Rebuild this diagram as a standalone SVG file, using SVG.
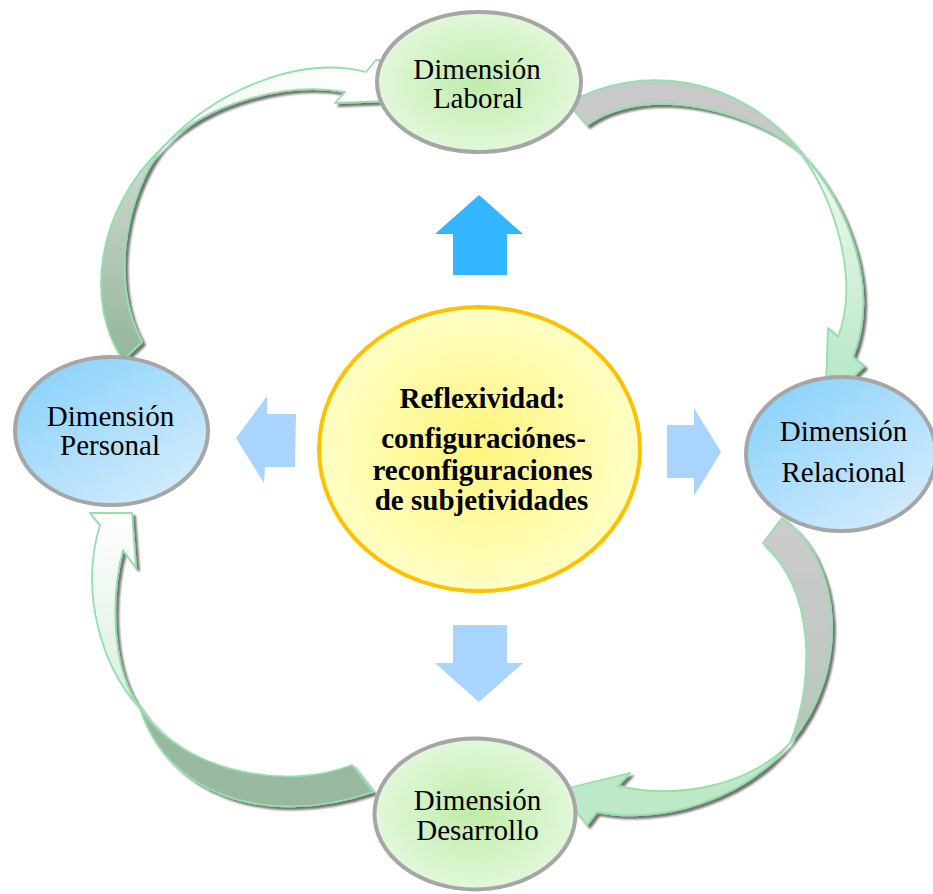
<svg xmlns="http://www.w3.org/2000/svg" width="933" height="894" viewBox="0 0 933 894">
  <defs>
    <style>
      .lbl { font-family: "Liberation Serif", "Times New Roman", serif; font-size: 29px; fill: #000; text-anchor: middle; }
      .bold { font-weight: bold; }
      .dim { stroke: #a6a6a6; stroke-width: 4; }
      .core { stroke: #ffc000; stroke-width: 4; }
      .band { stroke: #93e0ab; stroke-width: 1.8; stroke-linejoin: round; }
      .hint { fill: #a9d4fe; }
      .hint-main { fill: #33b6ff; }
    </style>
    <radialGradient id="gGreen" cx="0.5" cy="0.5" r="0.5">
      <stop offset="0" stop-color="#bfeca9"/>
      <stop offset="1" stop-color="#e2f8da"/>
    </radialGradient>
    <linearGradient id="gBlue" x1="0.15" y1="0.1" x2="0.85" y2="0.95">
      <stop offset="0" stop-color="#8dd3fb"/>
      <stop offset="1" stop-color="#d4ecfc"/>
    </linearGradient>
    <radialGradient id="gYellow" cx="0.5" cy="0.5" r="0.5">
      <stop offset="0" stop-color="#fff47c"/>
      <stop offset="1" stop-color="#ffffc4"/>
    </radialGradient>
    <!-- curved band fills -->
    <linearGradient id="a1back" gradientUnits="userSpaceOnUse" x1="0" y1="350" x2="0" y2="150">
      <stop offset="0" stop-color="#97b79e"/>
      <stop offset="1" stop-color="#cfdad1"/>
    </linearGradient>
    <linearGradient id="a1front" gradientUnits="userSpaceOnUse" x1="160" y1="0" x2="380" y2="0">
      <stop offset="0" stop-color="#f4f8f5"/>
      <stop offset="1" stop-color="#ffffff"/>
    </linearGradient>
    <linearGradient id="a2front" gradientUnits="userSpaceOnUse" x1="0" y1="155" x2="0" y2="370">
      <stop offset="0" stop-color="#f0f9f2"/>
      <stop offset="1" stop-color="#bce9c9"/>
    </linearGradient>
    <linearGradient id="a3back" gradientUnits="userSpaceOnUse" x1="0" y1="520" x2="0" y2="745">
      <stop offset="0" stop-color="#cccccc"/>
      <stop offset="1" stop-color="#b8c6bb"/>
    </linearGradient>
    <linearGradient id="a4front" gradientUnits="userSpaceOnUse" x1="0" y1="515" x2="0" y2="710">
      <stop offset="0" stop-color="#ffffff"/>
      <stop offset="1" stop-color="#d8eede"/>
    </linearGradient>
    <filter id="shadow" x="-20%" y="-20%" width="140%" height="140%">
      <feGaussianBlur in="SourceAlpha" stdDeviation="1"/>
      <feOffset dx="3" dy="3" result="off"/>
      <feComponentTransfer><feFuncA type="linear" slope="0.55"/></feComponentTransfer>
      <feMerge><feMergeNode/><feMergeNode in="SourceGraphic"/></feMerge>
    </filter>
  </defs>

  <rect width="933" height="894" fill="#ffffff"/>

  <g id="connectors">
    <!-- Personal to Laboral -->
    <g filter="url(#shadow)">
      <path class="band" fill="url(#a1back)" d="M123,360 C85,305 95,210 163,147 C128,190 108,280 142,342 Z"/>
      <path class="band" fill="url(#a1front)" d="M163,147 C215,90 300,55 366,72 L376,60 L390,62 L390,101 L335,103 L345,92 C290,82 210,100 163,147 Z"/>
    </g>
    <!-- Laboral to Relacional -->
    <g filter="url(#shadow)">
      <path class="band" fill="#c9c9c9" d="M568,103 C640,62 740,75 800,152 C760,115 650,80 587,125 Z"/>
      <path class="band" fill="url(#a2front)" d="M800,152 C850,205 880,290 853,357 L864,366 L845,385 L826,385 L828,328 L838,337 C860,280 835,200 800,152 Z"/>
    </g>
    <!-- Relacional to Desarrollo -->
    <g filter="url(#shadow)">
      <path class="band" fill="url(#a3back)" d="M782,518 C842,560 852,670 790,743 C815,680 815,590 763,543 Z"/>
      <path class="band" fill="#bde9c9" d="M790,743 C745,800 660,825 597,812 L587,825 L560,790 L630,773 L618,786 C680,800 750,785 790,743 Z"/>
    </g>
    <!-- Desarrollo to Personal -->
    <g filter="url(#shadow)">
      <path class="band" fill="#98b9a0" d="M352,765 C290,790 185,775 140,708 C165,790 260,830 373,792 Z"/>
      <path class="band" fill="url(#a4front)" d="M140,708 C100,665 80,590 100,525 L90,513 L132,513 L136,568 L123,550 C110,600 112,670 140,708 Z"/>
    </g>
    <!-- block arrows radiating from the core -->
    <polygon class="hint-main" points="479,195 523,234 507,234 507,275 453,275 453,234 435,234"/>
    <polygon class="hint" points="453,625 507,625 507,663 523,663 479,702 435,663 453,663"/>
    <polygon class="hint" points="236,438 267,396 267,414 296,414 295,467 265,467 264,483"/>
    <polygon class="hint" points="667,425 694,425 694,408 721,452 694,496 694,478 667,478"/>
  </g>

  <g id="node-laboral">
    <ellipse class="dim" cx="479" cy="82" rx="102" ry="70" fill="url(#gGreen)"/>
    <text class="lbl" x="477" y="79">Dimensión</text>
    <text class="lbl" x="478" y="108">Laboral</text>
  </g>

  <g id="node-personal">
    <ellipse class="dim" cx="111.5" cy="431" rx="96.5" ry="74" fill="url(#gBlue)"/>
    <text class="lbl" x="110.5" y="426">Dimensión</text>
    <text class="lbl" x="110" y="455">Personal</text>
  </g>

  <g id="node-relacional">
    <ellipse class="dim" cx="841" cy="454" rx="95" ry="77" fill="url(#gBlue)"/>
    <text class="lbl" x="843.5" y="441">Dimensión</text>
    <text class="lbl" x="843.5" y="482">Relacional</text>
  </g>

  <g id="node-desarrollo">
    <ellipse class="dim" cx="475" cy="814" rx="100.5" ry="75.5" fill="url(#gGreen)"/>
    <text class="lbl" x="477.5" y="810">Dimensión</text>
    <text class="lbl" x="477.5" y="840">Desarrollo</text>
  </g>

  <g id="node-reflexividad">
    <ellipse class="core" cx="479.5" cy="449" rx="160.5" ry="142" fill="url(#gYellow)"/>
    <text class="lbl bold" x="482.5" y="408">Reflexividad:</text>
    <text class="lbl bold" x="483.5" y="448">configuraciónes-</text>
    <text class="lbl bold" x="482.5" y="480">reconfiguraciones</text>
    <text class="lbl bold" x="481.5" y="510">de subjetividades</text>
  </g>
</svg>
